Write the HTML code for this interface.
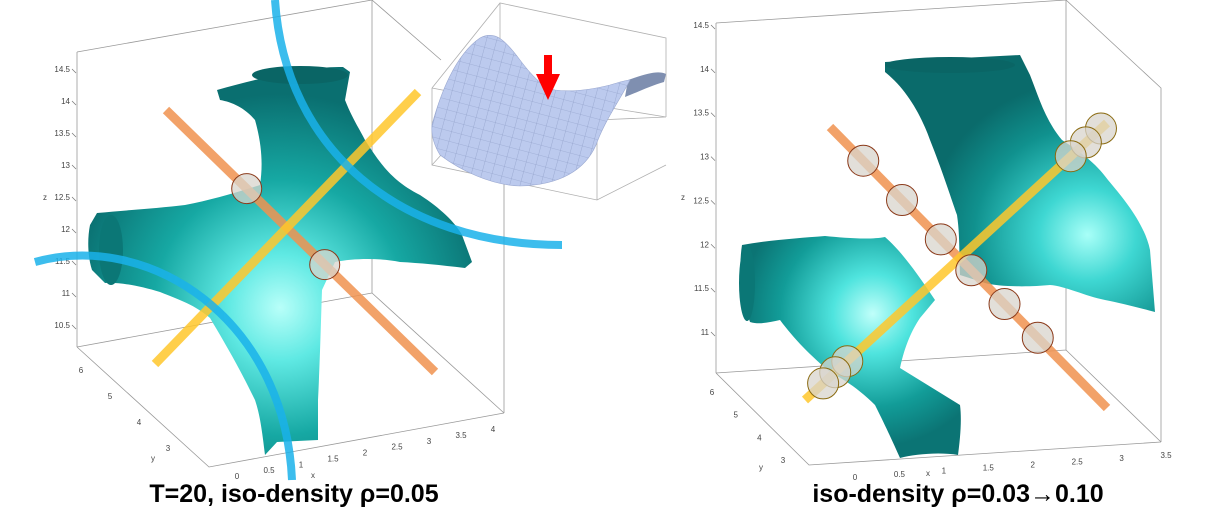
<!DOCTYPE html>
<html><head><meta charset="utf-8"><style>
html,body{margin:0;padding:0;background:#fff;}
svg{display:block;font-family:"Liberation Sans",sans-serif;}
.cap{font-family:"Liberation Sans","Noto Sans CJK SC",sans-serif;font-weight:bold;font-size:25px;fill:#000;}
.tk{font-size:8px;fill:#444;}
</style></head><body>
<svg id="fig" width="1212" height="522" viewBox="0 0 1212 522">
<defs>
<radialGradient id="tealL" cx="0.5" cy="0.62" r="0.55">
<stop offset="0" stop-color="#b8fff9"/><stop offset="0.25" stop-color="#5fe9e3"/><stop offset="0.6" stop-color="#16a8a3"/><stop offset="1" stop-color="#0a6f70"/></radialGradient>
<radialGradient id="tealR1" cx="0.75" cy="0.7" r="0.6">
<stop offset="0" stop-color="#a8fff8"/><stop offset="0.3" stop-color="#3ed7d2"/><stop offset="0.7" stop-color="#10918e"/><stop offset="1" stop-color="#0a6b6b"/></radialGradient>
<radialGradient id="tealR2" cx="0.6" cy="0.35" r="0.6">
<stop offset="0" stop-color="#c0fffa"/><stop offset="0.3" stop-color="#4fe4de"/><stop offset="0.7" stop-color="#129c98"/><stop offset="1" stop-color="#0b7474"/></radialGradient>
<pattern id="grid" width="10" height="10" patternUnits="userSpaceOnUse" patternTransform="rotate(15)">
<rect width="10" height="10" fill="#bccaee"/><path d="M0 0H10M0 0V10" stroke="#8796c0" stroke-width="0.6"/></pattern>
</defs>

<!-- LEFT PANEL -->
<g>
<g stroke="#999" stroke-width="0.8" fill="none">
<path d="M77,52 V347 M77,52 L372,0 M372,0 V293 M77,347 L372,293 M77,347 L209,467 L504,413 M504,177 V413 M372,293 L504,413 M372,0 L441,60"/>
</g>
<g id="ticksL"></g>
<path fill="url(#tealL)" d="M217,90 C260,78 310,66 343,67 L350,72 L345,100 C352,118 360,130 365,140 C378,160 390,180 420,195 C440,208 455,222 462,235 L472,262 L465,268 C440,265 420,263 400,262 C380,258 355,258 335,262 L322,290 C321,320 320,360 318,400 L318,440 L277,442 L265,455 C262,430 260,415 255,400 C245,380 238,365 210,318 C195,305 180,300 160,292 C140,286 120,282 105,283 L92,270 C88,258 87,240 90,225 L97,213 C130,210 160,208 185,205 C210,200 232,194 260,185 C263,165 262,145 255,120 C245,108 232,102 220,100 Z"/>
<ellipse cx="111" cy="250" rx="12" ry="35" fill="#0b7776"/>
<ellipse cx="300" cy="75" rx="48" ry="9" fill="#0a6565"/>
<!-- inset saddle -->
<g>
<path d="M432,88 L500,3 L666,38 V117 M432,88 V165 L597,200 L666,165 M432,88 L597,120 L666,117 M597,120 V200 M500,3 V90 M500,90 L432,165 M500,90 L666,117" stroke="#b0b0b0" stroke-width="0.8" fill="none"/>
<path d="M628,80 C645,74 658,70 666,74 L664,82 C650,86 638,92 625,97 Z" fill="#7f8fb0"/>
<path d="M432,125 C440,95 455,55 480,38 C495,30 505,40 520,60 C535,80 545,88 555,90 C570,92 590,90 610,85 C620,82 626,80 630,80 C620,100 605,120 596,145 C585,170 560,185 520,186 C490,185 460,170 440,155 C434,145 431,135 432,125 Z" fill="url(#grid)" stroke="#9aa8d0" stroke-width="0.6"/>
<path d="M548,55 V76" stroke="#f00" stroke-width="8"/>
<path d="M536,74 L560,74 L548,100 Z" fill="#f00"/>
</g>
<g id="linesL"></g>
<path d="M275,0 C285,150 400,245 562,245" stroke="#1ab2ea" stroke-opacity="0.85" stroke-width="8" fill="none"/>
<path d="M35,262 C150,230 285,320 292,480" stroke="#1ab2ea" stroke-opacity="0.85" stroke-width="8" fill="none"/>
<text class="cap" x="294" y="502" text-anchor="middle">T=20, iso-density ρ=0.05</text>
</g>

<!-- RIGHT PANEL -->
<g>
<g stroke="#999" stroke-width="0.8" fill="none">
<path d="M716,23 V373 M716,23 L1066,0 M1066,0 V350 M716,373 L1066,350 M1066,0 L1161,88 V442 M1066,350 L1161,442 M716,373 L809,465 L1161,442"/>
</g>
<g id="ticksR"></g>
<path fill="url(#tealR1)" d="M885,62 L1020,55 L1030,75 C1038,95 1045,120 1062,140 C1080,152 1095,162 1108,180 C1125,200 1145,225 1150,250 L1155,312 C1140,308 1120,303 1105,300 C1085,296 1065,286 1050,285 C1030,287 1000,287 985,283 L960,275 C959,255 960,235 957,215 C950,195 942,170 930,140 C920,112 905,88 885,72 Z"/>
<ellipse cx="950" cy="65" rx="65" ry="8" fill="#0a6565"/>
<path fill="url(#tealR2)" d="M742,245 C770,240 800,238 825,236 C845,238 870,240 885,237 C900,250 915,270 935,300 L920,318 C912,330 905,345 900,368 L960,405 C962,420 960,440 958,455 C940,452 915,454 900,458 C892,440 885,425 875,405 C860,390 845,380 830,372 C810,355 795,340 780,320 C770,322 760,325 750,322 C742,300 738,270 742,245 Z"/>
<ellipse cx="747" cy="283" rx="8" ry="38" fill="#0b7776"/>
<g id="linesR"></g>
<text class="cap" x="958" y="502" text-anchor="middle">iso-density ρ=0.03→0.10</text>
</g>
</svg>
<script>
// tick label data
const zTicksL = ["14.5","14","13.5","13","12.5","12","11.5","11","10.5"];
const yTicksL = ["6","5","4","3"];
const xTicksL = ["0","0.5","1","1.5","2","2.5","3","3.5","4"];
const zTicksR = ["14.5","14","13.5","13","12.5","12","11.5","11"];
const yTicksR = ["6","5","4","3"];
const xTicksR = ["0","0.5","1","1.5","2","2.5","3","3.5"];
// circle positions as fractions along each line (data, 0..1)
const orangeCirclesL = [0.30, 0.59];
const orangeCirclesR = [0.12, 0.26, 0.40, 0.51, 0.63, 0.75];
const yellowCirclesR = [0.02, 0.07, 0.12, 0.86, 0.90, 0.94];

const NS="http://www.w3.org/2000/svg";
function axis(a,b,n){return i=>[a[0]+(b[0]-a[0])*i/(n-1), a[1]+(b[1]-a[1])*i/(n-1)];}
function along(a,b){return t=>[a[0]+(b[0]-a[0])*t, a[1]+(b[1]-a[1])*t];}
function txt(g,x,y,s,anchor){const t=document.createElementNS(NS,"text");t.setAttribute("x",x);t.setAttribute("y",y);t.setAttribute("class","tk");t.setAttribute("text-anchor",anchor||"middle");t.textContent=s;


g.appendChild(t);return t;}
function line(g,p,q,col,w,op,name){const l=document.createElementNS(NS,"line");l.setAttribute("x1",p[0]);l.setAttribute("y1",p[1]);l.setAttribute("x2",q[0]);l.setAttribute("y2",q[1]);l.setAttribute("stroke",col);l.setAttribute("stroke-width",w);l.setAttribute("stroke-opacity",op);


g.appendChild(l);}
function circ(g,p,r,stroke){const c=document.createElementNS(NS,"circle");c.setAttribute("cx",p[0]);c.setAttribute("cy",p[1]);c.setAttribute("r",r);c.setAttribute("fill","#d8d4cc");c.setAttribute("fill-opacity","0.75");c.setAttribute("stroke",stroke);c.setAttribute("stroke-width","1");


g.appendChild(c);}
function ticks(g,zs,za,zb,ys,ya,yb,xs,xa,xb,zl,yl,xl){
 const fz=axis(za,zb,zs.length);zs.forEach((s,i)=>{const p=fz(i);txt(g,p[0],p[1]+3,s,"end");line(g,[p[0]+2,p[1]],[p[0]+6,p[1]+4],"#777",0.7,1,"z-tick");});
 const fy=axis(ya,yb,ys.length);ys.forEach((s,i)=>{const p=fy(i);txt(g,p[0],p[1]+3,s);});
 const fx=axis(xa,xb,xs.length);xs.forEach((s,i)=>{const p=fx(i);txt(g,p[0],p[1]+3,s);});
 txt(g,zl[0],zl[1],"z");txt(g,yl[0],yl[1],"y");txt(g,xl[0],xl[1],"x");
}
const gL=document.getElementById("ticksL");
ticks(gL,zTicksL,[70,69],[70,325],yTicksL,[81,370],[168,448],xTicksL,[237,476],[493,429],[45,200],[153,461],[313,478]);
const gR=document.getElementById("ticksR");
ticks(gR,zTicksR,[709,25],[709,332],yTicksR,[712,392],[783,460],xTicksR,[855,477],[1166,455],[683,200],[761,470],[928,476]);

const lL=document.getElementById("linesL");
const oA=[166,110],oB=[435,372],yA=[418,92],yB=[155,364];
line(lL,oA,oB,"#f0924f",9,0.85,"orange-line");
line(lL,yA,yB,"#ffc72c",9,0.85,"yellow-line");
const fo=along(oA,oB);orangeCirclesL.forEach(t=>circ(lL,fo(t),15,"#8b3a1a"));

const lR=document.getElementById("linesR");
const oA2=[830,127],oB2=[1107,408],yA2=[1107,123],yB2=[805,400];
line(lR,oA2,oB2,"#f0924f",9,0.85,"orange-line");
line(lR,yA2,yB2,"#ffc72c",9,0.85,"yellow-line");
const fo2=along(oA2,oB2);orangeCirclesR.forEach(t=>circ(lR,fo2(t),15.5,"#8b3a1a"));
const fy2=along(yA2,yB2);yellowCirclesR.forEach(t=>circ(lR,fy2(t),15.5,"#8a6a10"));
</script>
</body></html>
